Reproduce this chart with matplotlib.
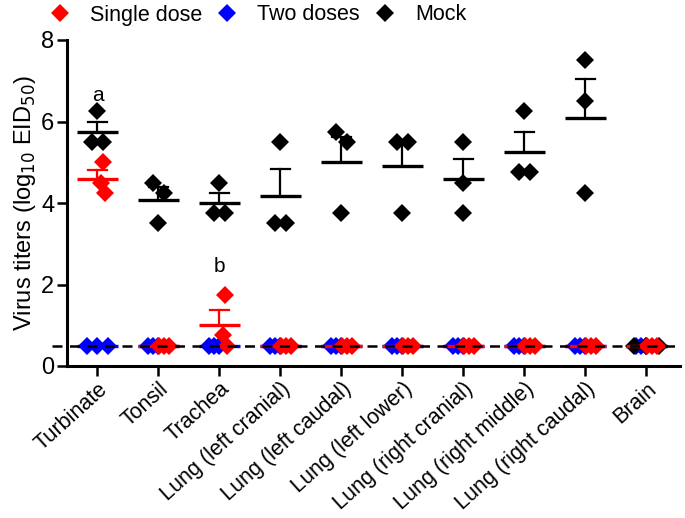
import numpy as np
import matplotlib
matplotlib.use("Agg")
import matplotlib.pyplot as plt
from matplotlib.lines import Line2D

plt.rcParams['font.family'] = ['Liberation Sans', 'DejaVu Sans']

tissues = ["Turbinate", "Tonsil", "Trachea", "Lung (left cranial)", "Lung (left caudal)",
           "Lung (left lower)", "Lung (right cranial)", "Lung (right middle)",
           "Lung (right caudal)", "Brain"]

single_dose = [[5.0, 4.5, 4.25], [0.5, 0.5, 0.5], [1.75, 0.75, 0.5], [0.5, 0.5, 0.5],
               [0.5, 0.5, 0.5], [0.5, 0.5, 0.5], [0.5, 0.5, 0.5], [0.5, 0.5, 0.5],
               [0.5, 0.5, 0.5], [0.5, 0.5, 0.5]]
two_doses = [[0.5, 0.5, 0.5]] * 10
mock = [[6.25, 5.5, 5.5], [4.5, 4.25, 3.5], [4.5, 3.75, 3.75], [5.5, 3.5, 3.5],
        [5.75, 5.5, 3.75], [5.5, 5.5, 3.75], [5.5, 4.5, 3.75], [6.25, 4.75, 4.75],
        [7.5, 6.5, 4.25], [0.5, 0.5, 0.5]]
detection_limit = 0.5
group_labels = ["Single dose", "Two doses", "Mock"]
annotations = [("a", 0, 6.65), ("b", 2, 2.45)]

fig = plt.figure(figsize=(6.85, 5.18), dpi=100)
ax = fig.add_axes([67/685, 1-366/518, (680-67)/685, (366-40)/518])


def offsets(vals, step, shift=0.0, thr=0.3):
    vals = np.asarray(vals, float)
    order = np.argsort(-vals)
    offs = np.zeros(len(vals))
    clusters = []
    for i in order:
        if clusters and abs(vals[clusters[-1][-1]] - vals[i]) < thr:
            clusters[-1].append(i)
        else:
            clusters.append([i])
    for c in clusters:
        n = len(c)
        for k, i in enumerate(c):
            offs[i] = (k - (n - 1) / 2) * step
    return offs + shift


ms = 9.5
def draw_group(i, vals, color, step, shift, z):
    vals = np.asarray(vals, float)
    m = vals.mean()
    sem = vals.std(ddof=1) / np.sqrt(len(vals))
    ax.plot([i - 0.33, i + 0.33], [m, m], color=color, lw=2.4, zorder=z, solid_capstyle='butt')
    if sem > 0:
        ax.plot([i, i], [m, m + sem], color=color, lw=1.6, zorder=z)
        ax.plot([i - 0.15, i + 0.15], [m + sem, m + sem], color=color, lw=1.6, zorder=z)
    ax.plot(i + offsets(vals, step, shift), vals, 'D', color=color, ms=ms,
            markeredgewidth=0, zorder=z + 0.5, clip_on=False)


for i in range(len(tissues)):
    only_blue_at_lod = min(single_dose[i]) > detection_limit
    if only_blue_at_lod:
        draw_group(i, two_doses[i], 'blue', 0.18, 0.0, 3)
    else:
        draw_group(i, two_doses[i], 'blue', 0.08, -0.09, 3)
    if min(mock[i]) <= detection_limit:
        draw_group(i, mock[i], 'black', 0.2, 0.0, 4)
    else:
        draw_group(i, mock[i], 'black', 0.18, 0.0, 4)
    draw_group(i, single_dose[i], 'red', 0.08, 0.09, 5)

ax.plot([-0.75, 9.55], [detection_limit, detection_limit], color='black', lw=1.8,
        ls=(0, (4, 3)), zorder=10, clip_on=False)

for t, i, y in annotations:
    ax.text(i, y, t, ha='center', va='center', fontsize=15)

ax.set_xlim(-0.5, 9.55)
ax.set_ylim(0, 8)
ax.set_yticks([0, 2, 4, 6, 8])
ax.set_xticks(range(len(tissues)))
ax.set_xticklabels(tissues, rotation=42, ha='right', va='top', rotation_mode='anchor', fontsize=15.5)
ax.tick_params(axis='y', labelsize=17, width=1.8, length=7, pad=2)
ax.tick_params(axis='x', width=1.8, length=7, pad=2)
for s in ['top', 'right']:
    ax.spines[s].set_visible(False)
for s in ['left', 'bottom']:
    ax.spines[s].set_linewidth(2.2)
ax.set_ylabel("Virus titers (log$_{10}$ EID$_{50}$)", fontsize=17, labelpad=2)

handles = [Line2D([], [], ls='none', marker='D', color=c, ms=ms, markeredgewidth=0)
           for c in ['red', 'blue', 'black']]
fig.legend(handles, group_labels, loc='center left', bbox_to_anchor=(49/685, 1-15/518),
           ncol=3, frameon=False, fontsize=15.5, handlelength=1.0, handletextpad=0.9,
           columnspacing=0.66, borderpad=0, borderaxespad=0)

fig.savefig("out.png", dpi=100)
